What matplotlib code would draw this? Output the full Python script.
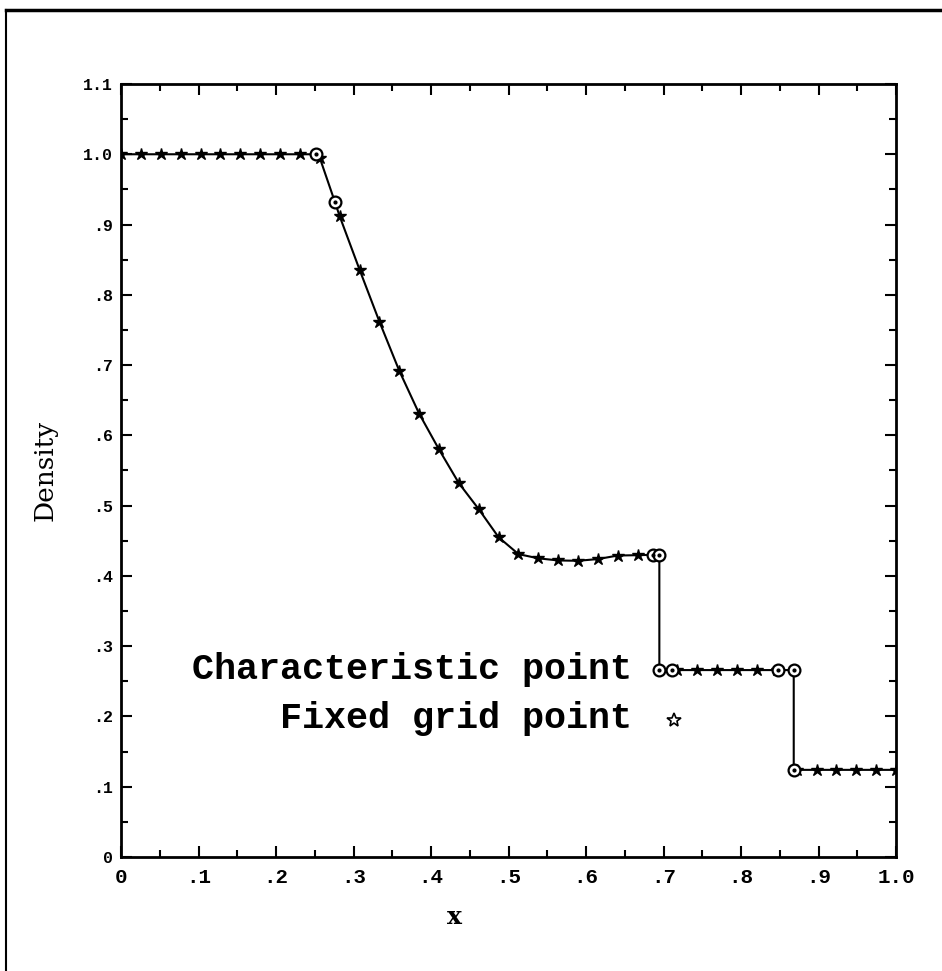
import numpy as np
import matplotlib
matplotlib.use("Agg")
import matplotlib.pyplot as plt
from matplotlib.lines import Line2D
from matplotlib.ticker import FixedLocator, MultipleLocator

# fixed grid points (x = i/39)
grid_x = np.arange(40) / 39
grid_rho = [1.0, 1.0, 1.0, 1.0, 1.0, 1.0, 1.0, 1.0, 1.0, 1.0,
            0.995, 0.912, 0.836, 0.762, 0.692, 0.631, 0.580, 0.532, 0.495, 0.455,
            0.431, 0.425, 0.422, 0.4215, 0.424, 0.429, 0.4295, 0.430,
            0.266, 0.266, 0.266, 0.266, 0.266, 0.266,
            0.124, 0.124, 0.124, 0.124, 0.124, 0.124]

# characteristic points, in path order
char_x = [0.252, 0.276, 0.686, 0.6946, 0.6946, 0.848, 0.868, 0.868]
char_rho = [1.0, 0.932, 0.430, 0.430, 0.266, 0.266, 0.266, 0.124]

x_ticks = np.round(np.arange(0, 1.01, 0.1), 2)
x_labels = ["0", ".1", ".2", ".3", ".4", ".5", ".6", ".7", ".8", ".9", "1.0"]
y_ticks = np.round(np.arange(0, 1.11, 0.1), 2)
y_labels = ["0", ".1", ".2", ".3", ".4", ".5", ".6", ".7", ".8", ".9", "1.0", "1.1"]

# merge both sets of points into the drawn curve
all_x = np.concatenate([char_x, grid_x])
all_y = np.concatenate([char_rho, grid_rho])
order = np.argsort(all_x, kind="stable")
line_x, line_y = all_x[order], all_y[order]

fig = plt.figure(figsize=(9.42, 9.71), dpi=100)
ax = fig.add_axes([0.1285, 0.1174, 0.8227, 0.7961])

ax.plot(line_x, line_y, color="black", lw=1.5, zorder=2)
ax.plot(grid_x, grid_rho, linestyle="none", marker="*", ms=9, color="black", zorder=3)
ax.plot(char_x, char_rho, linestyle="none", marker="o", ms=8.5, mfc="white",
        mec="black", mew=1.6, zorder=4)
ax.plot(char_x, char_rho, linestyle="none", marker="o", ms=2, color="black", zorder=5)

ax.set_xlim(0, 1.0)
ax.set_ylim(0, 1.1)
ax.xaxis.set_major_locator(FixedLocator(x_ticks))
ax.set_xticklabels(x_labels, family="Liberation Mono", fontsize=15, fontweight="bold")
ax.yaxis.set_major_locator(FixedLocator(y_ticks))
ax.set_yticklabels(y_labels, family="Liberation Mono", fontsize=12, fontweight="bold")
ax.xaxis.set_minor_locator(MultipleLocator(0.05))
ax.yaxis.set_minor_locator(MultipleLocator(0.05))
ax.tick_params(which="both", direction="in", top=True, right=True, width=1.5, color="black")
ax.tick_params(which="major", length=8)
ax.tick_params(which="minor", length=5)
ax.tick_params(axis="x", pad=8)
ax.tick_params(axis="y", pad=6)
for s in ax.spines.values():
    s.set_linewidth(2)

ax.set_xlabel("x", family="DejaVu Serif", fontsize=18, fontweight="bold")
ax.xaxis.set_label_coords(0.43, -0.062)
ax.set_ylabel("Density", family="DejaVu Serif", fontsize=19, labelpad=18)

# legend drawn by hand so the text can be right aligned
ax.text(0.659, 0.243, "Characteristic point", transform=ax.transAxes, ha="right",
        va="center", family="Liberation Mono", fontsize=26.5, fontweight="bold")
ax.text(0.659, 0.179, "Fixed grid point", transform=ax.transAxes, ha="right",
        va="center", family="Liberation Mono", fontsize=26.5, fontweight="bold")
ax.plot([0.7106], [0.242], transform=ax.transAxes, marker="o", ms=8.5, mfc="white",
        mec="black", mew=1.6, linestyle="none", zorder=4)
ax.plot([0.7106], [0.242], transform=ax.transAxes, marker="o", ms=2, color="black",
        linestyle="none", zorder=5)
ax.plot([0.714], [0.177], transform=ax.transAxes, marker="*", ms=10, mfc="white",
        mec="black", mew=1.2, linestyle="none")

# outer frame (left and top edges of the scanned page)
fig.add_artist(Line2D([0.006, 0.006], [0.0, 0.99], color="black", lw=1.5))
fig.add_artist(Line2D([0.006, 1.0], [0.99, 0.99], color="black", lw=2.5))

fig.savefig("out.png", dpi=100)
